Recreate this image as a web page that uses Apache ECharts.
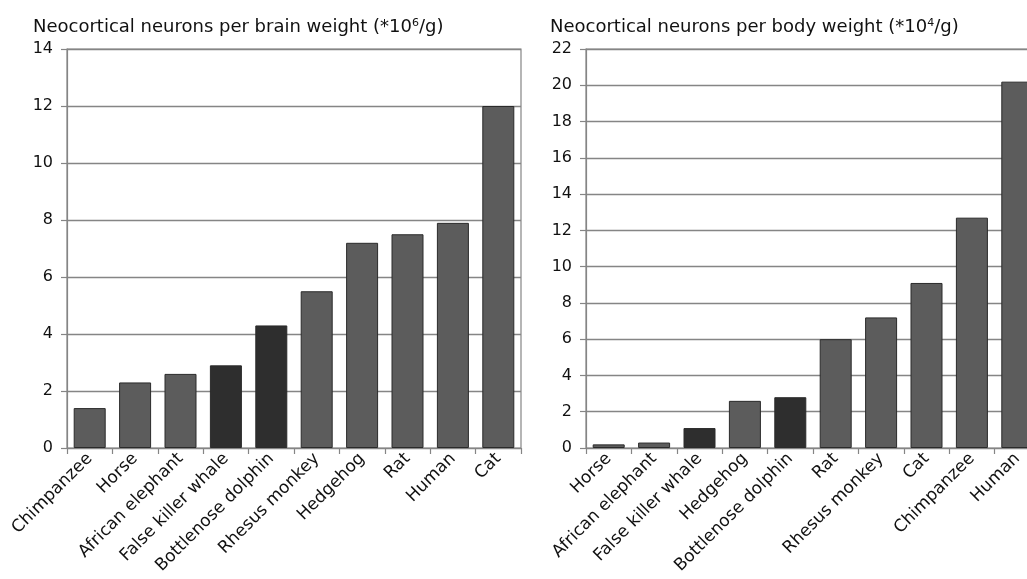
<!DOCTYPE html>
<html>
<head>
<meta charset="utf-8">
<script src="https://cdn.jsdelivr.net/npm/echarts@6/dist/echarts.min.js"></script>
<style>
html,body{margin:0;padding:0;background:#fff;}
#c{width:1027px;height:579px;}
</style>
</head>
<body>
<div id="c"></div>
<script>
// Left panel: neocortical neurons per brain weight (*10^6/g)
const brainCategories = ['Chimpanzee','Horse','African elephant','False killer whale','Bottlenose dolphin','Rhesus monkey','Hedgehog','Rat','Human','Cat'];
const brainValues = [1.4, 2.3, 2.6, 2.9, 4.3, 5.5, 7.2, 7.5, 7.9, 12.0];
const brainTicks = [0, 2, 4, 6, 8, 10, 12, 14];

// Right panel: neocortical neurons per body weight (*10^4/g)
const bodyCategories = ['Horse','African elephant','False killer whale','Hedgehog','Bottlenose dolphin','Rat','Rhesus monkey','Cat','Chimpanzee','Human'];
const bodyValues = [0.2, 0.3, 1.1, 2.6, 2.8, 6.0, 7.2, 9.1, 12.7, 20.2];
const bodyTicks = [0, 2, 4, 6, 8, 10, 12, 14, 16, 18, 20, 22];

// Cetaceans are drawn darker
const cetaceans = ['False killer whale', 'Bottlenose dolphin'];

const GRAY = '#5c5c5c', DARK = '#2e2e2e';
const FONT = '"DejaVu Sans", sans-serif';

function barData(cats, vals) {
  return vals.map((v, i) => ({
    value: v,
    itemStyle: { color: cetaceans.includes(cats[i]) ? DARK : GRAY }
  }));
}

function yAxis(gridIndex, ticks) {
  return {
    type: 'value', gridIndex: gridIndex,
    min: ticks[0], max: ticks[ticks.length - 1], interval: ticks[1] - ticks[0],
    axisLine: { show: true, lineStyle: { color: '#858585', width: 1.2 } },
    axisTick: { show: true, length: 6, lineStyle: { color: '#858585', width: 1.2 } },
    axisLabel: { color: '#111', fontSize: 16, fontFamily: FONT, margin: 14 },
    splitLine: { show: true, lineStyle: { color: '#858585', width: 1.4 } }
  };
}

function xAxis(gridIndex, cats) {
  return {
    type: 'category', gridIndex: gridIndex, data: cats,
    axisLine: { show: true, lineStyle: { color: '#858585', width: 1.2 } },
    axisTick: { show: true, length: 6, alignWithLabel: false, lineStyle: { color: '#858585', width: 1.2 } },
    axisLabel: { color: '#111', fontSize: 17, fontFamily: FONT, rotate: 45, margin: 8, interval: 0,
      padding: [12, 0, 0, 0] }
  };
}

function titleRich(main, sup, tail) {
  return {
    text: main + '{sup|' + sup + '}' + tail,
    textStyle: {
      color: '#111', fontSize: 18, fontWeight: 'normal', fontFamily: FONT,
      rich: { sup: { fontSize: 11, fontFamily: FONT, color: '#111', padding: [0, 0, 8, 0] } }
    }
  };
}

const chart = echarts.init(document.getElementById('c'), null, { renderer: 'canvas' });
chart.setOption({
  backgroundColor: '#fff',
  animation: false,
  title: [
    Object.assign({ left: 28, top: 13 }, titleRich('Neocortical neurons per brain weight (*10', '6', '/g)')),
    Object.assign({ left: 545, top: 13 }, titleRich('Neocortical neurons per body weight (*10', '4', '/g)'))
  ],
  grid: [
    { left: 67, top: 49, width: 454, bottom: 131, outerBoundsMode: 'none', containLabel: false,
      show: true, borderColor: '#858585', borderWidth: 1.2, backgroundColor: 'transparent' },
    { left: 586, top: 49, width: 454, bottom: 131, outerBoundsMode: 'none', containLabel: false,
      show: true, borderColor: '#858585', borderWidth: 1.2, backgroundColor: 'transparent' }
  ],
  xAxis: [xAxis(0, brainCategories), xAxis(1, bodyCategories)],
  yAxis: [yAxis(0, brainTicks), yAxis(1, bodyTicks)],
  series: [
    { type: 'bar', xAxisIndex: 0, yAxisIndex: 0, data: barData(brainCategories, brainValues), barWidth: 32,
      itemStyle: { borderColor: '#2a2a2a', borderWidth: 1 } },
    { type: 'bar', xAxisIndex: 1, yAxisIndex: 1, data: barData(bodyCategories, bodyValues), barWidth: 32,
      itemStyle: { borderColor: '#2a2a2a', borderWidth: 1 } }
  ]
});
</script>
</body>
</html>
